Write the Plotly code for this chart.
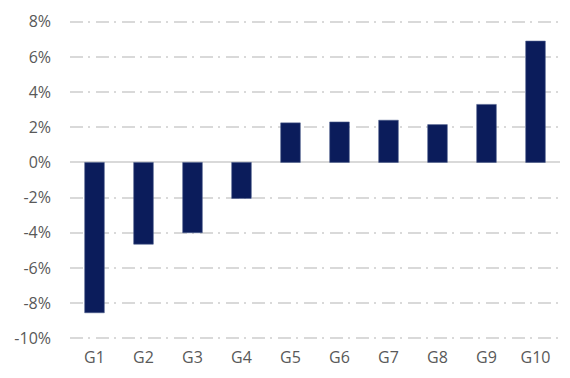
import plotly.graph_objects as go

categories = ["G1", "G2", "G3", "G4", "G5", "G6", "G7", "G8", "G9", "G10"]
values = [-8.55, -4.65, -4.0, -2.05, 2.25, 2.3, 2.4, 2.15, 3.3, 6.9]
tick_vals = [-10, -8, -6, -4, -2, 0, 2, 4, 6, 8]
tick_text = [f"{v}%" for v in tick_vals]

fig = go.Figure(
    go.Bar(
        x=categories,
        y=values,
        marker=dict(color="#0b1c5b", line=dict(color="#4a5a8a", width=0.6)),
        width=0.4,
    )
)

# page body has an 8px margin, so the figure is sized to fill the 570x378 window
fig.update_layout(
    width=554,
    height=362,
    margin=dict(l=62, r=2, t=12, b=27),
    plot_bgcolor="white",
    paper_bgcolor="white",
    showlegend=False,
    font=dict(family="Open Sans", size=16, color="#595959"),
)

fig.update_yaxes(
    range=[-10.1, 8.1],
    tickvals=tick_vals,
    ticktext=tick_text,
    showgrid=True,
    gridcolor="#d9d9d9",
    gridwidth=2,
    griddash="13px,5px,2px,6px",
    zeroline=True,
    zerolinecolor="#d9d9d9",
    zerolinewidth=2,
    showline=False,
    ticklabelstandoff=18,
)
fig.update_xaxes(
    showgrid=False,
    showline=False,
    ticklabelstandoff=6,
)

fig.write_html("out.html")
